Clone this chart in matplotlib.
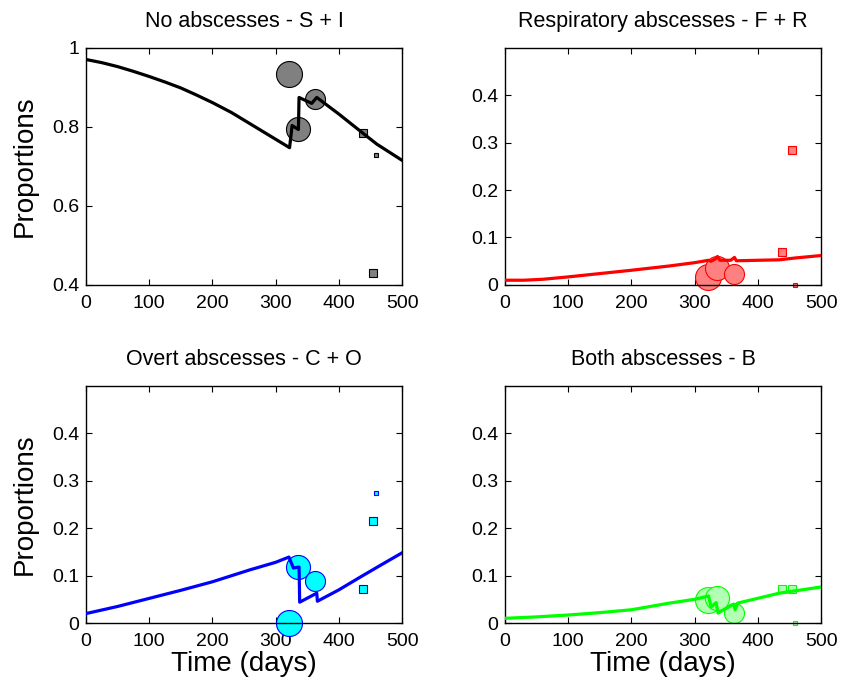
import numpy as np
import matplotlib.pyplot as plt

plt.rcParams['font.family'] = ['Liberation Sans', 'DejaVu Sans']

# model curves (time in days, proportions)
t_si = [0, 25, 50, 75, 100, 125, 150, 175, 200, 230, 259, 290, 322, 326, 336, 337, 357,
        365, 400, 433, 460, 500]
v_si = [0.970, 0.962, 0.952, 0.940, 0.927, 0.913, 0.898, 0.880, 0.861, 0.836, 0.808,
        0.778, 0.747, 0.803, 0.793, 0.874, 0.859, 0.874, 0.832, 0.790, 0.756, 0.715]

t_fr = [0, 30, 60, 100, 150, 200, 260, 300, 322, 326, 333, 336, 340, 357, 363, 366,
        400, 434, 460, 500]
v_fr = [0.010, 0.010, 0.012, 0.017, 0.024, 0.031, 0.040, 0.047, 0.052, 0.050, 0.055,
        0.060, 0.052, 0.052, 0.058, 0.051, 0.052, 0.053, 0.057, 0.062]

t_co = [0, 50, 100, 150, 200, 259, 300, 321, 328, 337, 338, 365, 366, 400, 434, 470, 500]
v_co = [0.020, 0.035, 0.052, 0.069, 0.087, 0.112, 0.128, 0.139, 0.116, 0.118, 0.044,
        0.063, 0.046, 0.070, 0.097, 0.125, 0.148]

t_b = [0, 50, 100, 150, 200, 260, 300, 322, 326, 334, 337, 362, 364, 368, 434, 500]
v_b = [0.010, 0.013, 0.017, 0.022, 0.028, 0.042, 0.050, 0.057, 0.034, 0.043, 0.021,
       0.040, 0.028, 0.042, 0.063, 0.076]

# observed data
t_circ = [321, 336, 362]
t_sq = [438, 454, 459]
obs_si_c = [0.934, 0.793, 0.871]
obs_si_s = [0.783, 0.430, 0.728]
obs_fr_c = [0.017, 0.035, 0.024]
obs_fr_s = [0.070, 0.285, 0.000]
obs_co_c = [0.000, 0.118, 0.089]
obs_co_s = [0.072, 0.214, 0.274]
obs_b_c = [0.049, 0.053, 0.021]
obs_b_s = [0.072, 0.072, 0.000]

circ_ms = [18.7, 17.3, 14.4]
sq_ms = [5.5, 6.0, 3.0]

panels = [
    ("No abscesses - S + I", t_si, v_si, obs_si_c, obs_si_s, 'k', (0.5, 0.5, 0.5), (0.4, 1)),
    ("Respiratory abscesses - F + R", t_fr, v_fr, obs_fr_c, obs_fr_s, 'r', (1, 0.5, 0.5), (0, 0.5)),
    ("Overt abscesses - C + O", t_co, v_co, obs_co_c, obs_co_s, 'b', (0, 1, 1), (0, 0.5)),
    ("Both abscesses - B", t_b, v_b, obs_b_c, obs_b_s, (0, 1, 0), (0.7, 1, 0.7), (0, 0.5)),
]

fig = plt.figure(figsize=(8.43, 6.90), dpi=100)
pos = [(0.102, 0.587), (0.599, 0.587), (0.102, 0.097), (0.599, 0.097)]

for i, (title, t, v, oc, osq, col, face, ylim) in enumerate(panels):
    ax = fig.add_axes([pos[i][0], pos[i][1], 0.375, 0.344])
    for tt, yy, ms in zip(t_circ, oc, circ_ms):
        ax.plot(tt, yy, 'o', ms=ms, mfc=face, mec=col, mew=0.8, zorder=2, clip_on=False)
    for tt, yy, ms in zip(t_sq, osq, sq_ms):
        ax.plot(tt, yy, 's', ms=ms, mfc=face, mec=col, mew=0.8, zorder=2, clip_on=False)
    ax.plot(t, v, color=col, lw=2.3, zorder=3)
    ax.set_xlim(0, 500)
    ax.set_ylim(*ylim)
    ax.set_xticks([0, 100, 200, 300, 400, 500])
    if i == 0:
        ax.set_yticks([0.4, 0.6, 0.8, 1])
    else:
        ax.set_yticks([0, 0.1, 0.2, 0.3, 0.4])
    ax.yaxis.set_major_formatter(plt.FormatStrFormatter('%g'))
    ax.tick_params(direction='in', top=True, right=True, length=4, width=0.8,
                   labelsize=14, pad=5)
    ax.tick_params(axis='x', pad=7)
    for s in ax.spines.values():
        s.set_linewidth(1.0)
    ax.set_title(title, fontsize=15.5, pad=15)
    if i % 2 == 0:
        ax.set_ylabel("Proportions", fontsize=20, labelpad=10)
    if i >= 2:
        ax.set_xlabel("Time (days)", fontsize=20, labelpad=1)

fig.savefig("out.png", dpi=100)
